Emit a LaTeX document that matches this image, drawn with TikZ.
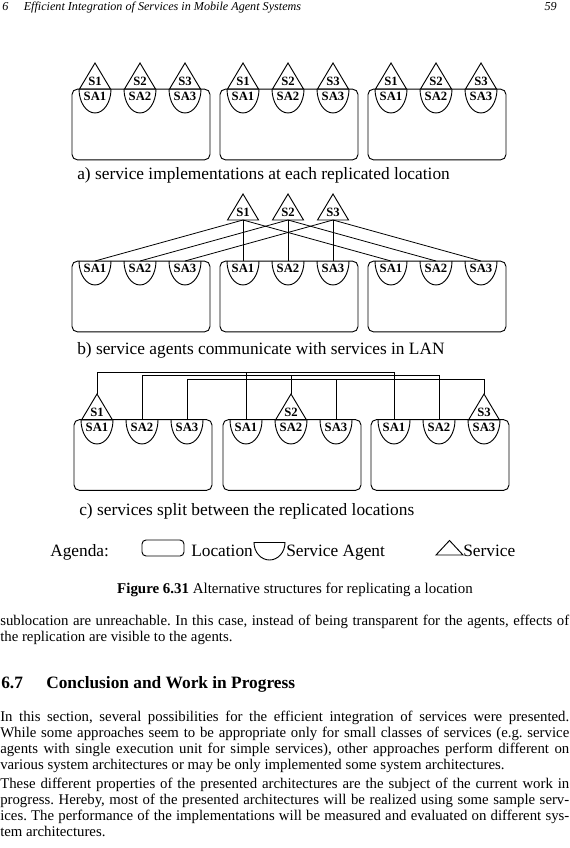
\documentclass[tikz,border=0pt]{standalone}
\usepackage{fontspec}
\setmainfont{Liberation Serif}
\frenchspacing
\tikzset{
  shp/.style={draw=black,line width=0.7pt},
  wire/.style={draw=black,line width=0.6pt},
  locbox/.style={draw=black,line width=0.7pt,rounded corners=4pt,minimum width=103.5pt,minimum height=53pt,inner sep=0pt},
  lbl/.style={font=\fontsize{9.5}{11}\selectfont\bfseries,inner sep=0pt},
  figtext/.style={font=\fontsize{13}{15}\selectfont,inner sep=0pt,anchor=base west},
  bodytext/.style={font=\fontsize{11.1}{13}\selectfont,inner sep=0pt,anchor=base west},
  hdrtext/.style={font=\fontsize{9.1}{11}\selectfont\itshape,inner sep=0pt,anchor=base west},
  pics/agent/.style={code={
    \draw[shp] (-16,0) arc[start angle=180,end angle=0,x radius=16,y radius=24];
    \node[lbl] at (0,7.5) {#1};
    \coordinate (-top) at (0,0);
  }},
  pics/service/.style={code={
    \draw[shp] (-15.5,0) -- (0,-26) -- (15.5,0) -- cycle;
    \node[lbl] at (0,-8) {#1};
    \coordinate (-apex) at (0,-26);
    \coordinate (-base) at (0,0);
  }},
}
\begin{document}
\begin{tikzpicture}[x=0.75pt,y=-0.75pt]
\useasboundingbox (0,0) rectangle (569,848);
% header
\node[hdrtext] (hdrnum) at (2,11) {6};
\node[hdrtext] (hdr) at (23.5,11) {Efficient Integration of Services in Mobile Agent Systems};
\node[hdrtext,anchor=base east] (pgno) at (557,11) {59};

% ---------- part a ----------
\foreach \bx/\nm in {72/L,220/M,368/R}{
  \node[locbox] (a\nm) at (\bx+69,124.5) {};
  \pic (a\nm1) at (\bx+23,89) {agent=SA1};
  \pic (a\nm2) at (\bx+68,89) {agent=SA2};
  \pic (a\nm3) at (\bx+113,89) {agent=SA3};
  \pic (a\nm S1) at (\bx+23,89) {service=S1};
  \pic (a\nm S2) at (\bx+68,89) {service=S2};
  \pic (a\nm S3) at (\bx+113,89) {service=S3};
}
\node[figtext] (capa) at (77,180) {a) service implementations at each replicated location};

% ---------- part b ----------
\foreach \bx/\nm in {72/L,220/M,368/R}{
  \node[locbox] (b\nm) at (\bx+69,296.5) {};
  \pic (b\nm1) at (\bx+23,261) {agent=SA1};
  \pic (b\nm2) at (\bx+68,261) {agent=SA2};
  \pic (b\nm3) at (\bx+113,261) {agent=SA3};
}
\pic (bS1) at (243,220) {service=S1};
\pic (bS2) at (288,220) {service=S2};
\pic (bS3) at (333,220) {service=S3};
\foreach \i in {1,2,3}{
  \foreach \nm in {L,M,R}{
    \draw[wire] (bS\i-base) -- (b\nm\i-top);
  }
}
\node[figtext] (capb) at (77,354) {b) service agents communicate with services in LAN};

% ---------- part c ----------
\foreach \bx/\nm in {74/L,223/M,371/R}{
  \node[locbox] (c\nm) at (\bx+69,455) {};
  \pic (c\nm1) at (\bx+23,420) {agent=SA1};
  \pic (c\nm2) at (\bx+68,420) {agent=SA2};
  \pic (c\nm3) at (\bx+113,420) {agent=SA3};
}
\pic (cS1) at (97,420) {service=S1};
\pic (cS2) at (291,420) {service=S2};
\pic (cS3) at (484,420) {service=S3};
\coordinate (bus1) at (0,372);
\coordinate (bus2) at (0,375.5);
\coordinate (bus3) at (0,379);
\draw[wire] (cS1-apex) -- (cS1-apex |- bus1) -- (cR1-top |- bus1) -- (cR1-top);
\draw[wire] (cM1-top) -- (cM1-top |- bus1);
\draw[wire] (cL2-top) -- (cL2-top |- bus2) -- (cR2-top |- bus2) -- (cR2-top);
\draw[wire] (cS2-apex) -- (cS2-apex |- bus2);
\draw[wire] (cL3-top) -- (cL3-top |- bus3) -- (cS3-apex |- bus3) -- (cS3-apex);
\draw[wire] (cM3-top) -- (cM3-top |- bus3);
\node[figtext] (capc) at (79,515) {c) services split between the replicated locations};

% ---------- legend ----------
\node[figtext] (agenda) at (50,556) {Agenda:};
\node[locbox,minimum width=31.5pt,minimum height=12pt,rounded corners=3pt] (legbox) at (163,548) {};
\node[figtext] (leglocation) at (191,556) {Location};
\coordinate (legcup) at (269.5,542.5);
\draw[shp] ([xshift=-11.625pt]legcup) arc[start angle=180,end angle=0,x radius=15.5,y radius=17.5] -- cycle;
\node[figtext] (legagent) at (286,556) {Service Agent};
\coordinate (legtri) at (449.5,555);
\draw[shp] ([xshift=-10.125pt]legtri) -- ([yshift=10.875pt]legtri) -- ([xshift=10.125pt]legtri) -- cycle;
\node[figtext] (legservice) at (463,556) {Service};

\node[bodytext,anchor=base,font=\fontsize{11.2}{13}\selectfont] (figcap) at (295,593) {\textbf{Figure 6.31} Alternative structures for replicating a location};

% ---------- body text ----------
\node[bodytext] (p1a) at (0,625) {\makebox[426.75pt][s]{sublocation are unreachable. In this case, instead of being transparent for the agents, effects of}};
\node[bodytext] (p1b) at (0,641) {the replication are visible to the agents.};

\node[bodytext,font=\fontsize{13}{15}\selectfont\bfseries] (sec) at (1,688) {6.7};
\node[bodytext,font=\fontsize{13}{15}\selectfont\bfseries] (sectitle) at (46,688) {Conclusion and Work in Progress};

\node[bodytext] (p2a) at (0,721) {\makebox[426.75pt][s]{In this section, several possibilities for the efficient integration of services were presented.}};
\node[bodytext] (p2b) at (0,737) {\makebox[426.75pt][s]{While some approaches seem to be appropriate only for small classes of services (e.g. service}};
\node[bodytext] (p2c) at (0,753) {\makebox[426.75pt][s]{agents with single execution unit for simple services), other approaches perform different on}};
\node[bodytext] (p2d) at (0,769) {various system architectures or may be only implemented some system architectures.};

\node[bodytext] (p3a) at (0,788) {\makebox[426.75pt][s]{These different properties of the presented architectures are the subject of the current work in}};
\node[bodytext] (p3b) at (0,804) {\makebox[426.75pt][s]{progress. Hereby, most of the presented architectures will be realized using some sample serv-}};
\node[bodytext] (p3c) at (0,820) {\makebox[426.75pt][s]{ices. The performance of the implementations will be measured and evaluated on different sys-}};
\node[bodytext] (p3d) at (0,836) {tem architectures.};
\end{tikzpicture}
\end{document}
